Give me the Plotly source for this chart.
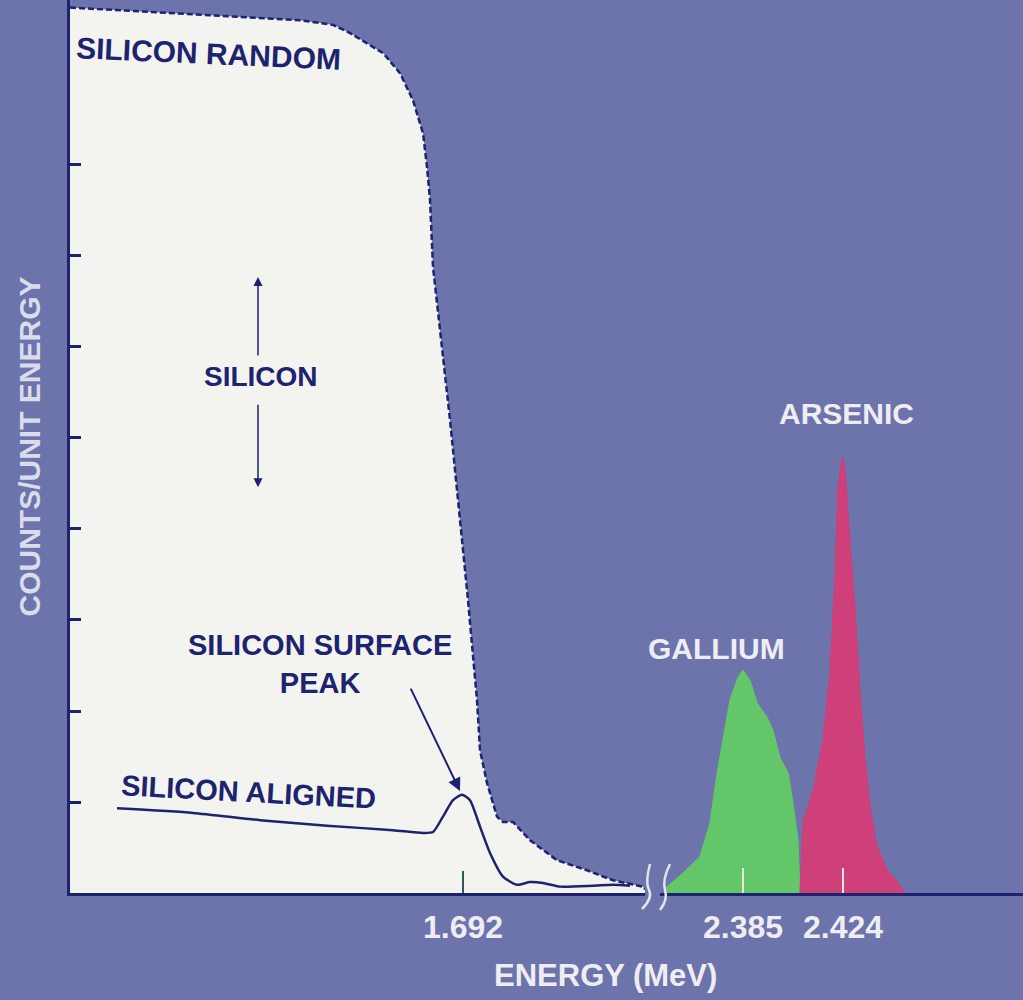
import plotly.graph_objects as go

# ---- spectrum data (energy in MeV, counts in arbitrary units) ----
random_energy = [0.906, 1.100, 1.366, 1.432, 1.466, 1.532, 1.566, 1.592, 1.612, 1.620,
                 1.626, 1.632, 1.646, 1.666, 1.686, 1.702, 1.720, 1.726, 1.740, 1.760,
                 1.772, 1.792, 1.826, 1.880, 1.940, 1.992, 2.052, 2.056]
random_counts = [9.73, 9.67, 9.59, 9.54, 9.45, 9.23, 9.01, 8.71, 8.35, 7.98,
                 7.62, 6.88, 6.19, 5.20, 4.10, 3.22, 2.12, 1.57, 1.21, 0.84,
                 0.78, 0.78, 0.58, 0.36, 0.25, 0.14, 0.07, 0.04]

aligned_energy = [1.000, 1.152, 1.286, 1.420, 1.552, 1.612, 1.632, 1.652, 1.672, 1.690,
                  1.706, 1.726, 1.746, 1.772, 1.800, 1.826, 1.852, 1.886, 1.952, 1.992, 2.026]
aligned_counts = [0.93, 0.88, 0.80, 0.74, 0.69, 0.66, 0.67, 0.84, 1.02, 1.08,
                  1.02, 0.73, 0.44, 0.18, 0.09, 0.12, 0.11, 0.07, 0.08, 0.09, 0.08]

gallium_energy = [2.3546, 2.3616, 2.3682, 2.3721, 2.3749, 2.3772, 2.3799, 2.3830, 2.3850,
                  2.3877, 2.3905, 2.3944, 2.3967, 2.3994, 2.4026, 2.4045, 2.4065, 2.4072]
gallium_counts = [0.05, 0.22, 0.40, 0.77, 1.32, 1.68, 2.12, 2.37, 2.45,
                  2.34, 2.09, 1.93, 1.79, 1.49, 1.32, 0.99, 0.58, 0.0]

arsenic_energy = [2.4072, 2.4084, 2.4123, 2.4162, 2.4189, 2.4209, 2.4220, 2.4236, 2.4248,
                  2.4267, 2.4287, 2.4306, 2.4326, 2.4345, 2.4373, 2.4412, 2.4462, 2.4482]
arsenic_counts = [0.0, 0.77, 1.13, 1.68, 2.42, 3.52, 4.43, 4.79, 4.68,
                  3.87, 3.15, 2.24, 1.49, 0.95, 0.51, 0.25, 0.09, 0.0]

si_tick = [1.692]
ga_as_ticks = [2.385, 2.424]
count_ticks = [1, 2, 3, 4, 5, 6, 7, 8]

# ---- styling ----
BG = "#6D73AB"
PAPER_WHITE = "#F3F3F0"
NAVY = "#1D236E"
GREEN = "#63C76A"
MAGENTA = "#CF3F7A"
LIGHT = "#EEEEF2"
FONT = '"Liberation Sans Narrow", "Liberation Sans", Arial, sans-serif'

W, H = 1023, 1000
ML, MB = 70, 107
PW, PH = W - ML, H - MB


def paper(xp, yp):
    """Convert page pixel position to paper coordinates of the plot area."""
    return (xp - ML) / PW, (H - MB - yp) / PH


def font(size, color):
    return dict(family=FONT, size=size, color=color, weight="bold")


fig = go.Figure()

fig.add_trace(go.Scatter(
    x=random_energy, y=random_counts, mode="lines",
    fill="tozeroy", fillcolor=PAPER_WHITE,
    line=dict(color=NAVY, width=2.5, dash="6px,3px"),
    xaxis="x", yaxis="y", hoverinfo="skip"))

fig.add_trace(go.Scatter(
    x=aligned_energy, y=aligned_counts, mode="lines",
    line=dict(color=NAVY, width=2.5, shape="spline", smoothing=0.6),
    xaxis="x", yaxis="y", hoverinfo="skip"))

fig.add_trace(go.Scatter(
    x=gallium_energy, y=gallium_counts, mode="lines",
    fill="tozeroy", fillcolor=GREEN, line=dict(color=GREEN, width=1),
    xaxis="x2", yaxis="y", hoverinfo="skip"))

fig.add_trace(go.Scatter(
    x=arsenic_energy, y=arsenic_counts, mode="lines",
    fill="tozeroy", fillcolor=MAGENTA, line=dict(color=MAGENTA, width=1),
    xaxis="x2", yaxis="y", hoverinfo="skip"))

split_left = (645 - ML) / PW
split_right = (660 - ML) / PW

axis_common = dict(showline=True, linecolor=NAVY, linewidth=3, showgrid=False,
                   zeroline=False, ticks="inside", fixedrange=True,
                   tickfont=font(32, LIGHT), ticklabelstandoff=4)

fig.update_layout(
    width=W, height=H,
    margin=dict(l=ML, r=0, t=0, b=MB),
    paper_bgcolor=BG, plot_bgcolor=BG,
    showlegend=False,
    font=dict(family=FONT, color=NAVY),
    xaxis=dict(domain=[0, split_left],
               range=[random_energy[0], random_energy[-1]],
               tickvals=si_tick, ticktext=[f"{v:.3f}" for v in si_tick],
               ticklen=22, tickwidth=1.5, tickcolor="#2E5C5A", **axis_common),
    xaxis2=dict(domain=[split_right, 1], anchor="y",
                range=[2.35263, 2.4942],
                tickvals=ga_as_ticks, ticktext=[f"{v:.3f}" for v in ga_as_ticks],
                ticklen=25, tickwidth=2, tickcolor="#E6E8D8", **axis_common),
    yaxis=dict(range=[0, 9.813], showline=True, linecolor=NAVY, linewidth=3,
               showgrid=False, zeroline=False, fixedrange=True,
               ticks="inside", tickvals=count_ticks, ticklen=11, tickwidth=2.5,
               tickcolor=NAVY, showticklabels=False,
               title=dict(text="COUNTS/UNIT ENERGY", standoff=18,
                          font=font(30, "#DADCEC"))),
)

annotations = []


def label(text, xp, yp, size, color=NAVY, angle=0):
    px_, py_ = paper(xp, yp)
    annotations.append(dict(text=text, x=px_, y=py_, xref="paper", yref="paper",
                            showarrow=False, textangle=angle, xanchor="center", yanchor="middle",
                            font=font(size, color)))


label("SILICON RANDOM", 208, 54, 30, angle=2.5)
label("SILICON", 261, 376, 28)
label("SILICON SURFACE<br>PEAK", 320, 664, 29)
label("SILICON ALIGNED", 248, 792, 29, angle=3)
label("GALLIUM", 716, 648, 30, color=LIGHT)
label("ARSENIC", 846, 413, 30, color=LIGHT)
label("ENERGY (MeV)", 605, 976, 31, color=LIGHT)

# arrow pointing at the surface peak
annotations.append(dict(x=1.686, y=1.12, xref="x", yref="y", ax=-50, ay=-104,
                        axref="pixel", ayref="pixel", text="", showarrow=True,
                        arrowhead=2, arrowsize=1.3, arrowwidth=2, arrowcolor=NAVY))
# double arrow marking the silicon range
annotations.append(dict(x=1.282, y=6.77, xref="x", yref="y", ax=0, ay=80,
                        text="", showarrow=True, arrowhead=2, arrowsize=1.2,
                        arrowwidth=1.5, arrowcolor=NAVY))
annotations.append(dict(x=1.282, y=4.46, xref="x", yref="y", ax=0, ay=-84,
                        text="", showarrow=True, arrowhead=2, arrowsize=1.2,
                        arrowwidth=1.5, arrowcolor=NAVY))

fig.update_layout(annotations=annotations)

# axis break marks
shapes = []
for pts in ([(650, 864), (645, 882), (649, 890), (642, 909)],
            [(670, 864), (662, 880), (665, 890), (660, 910)]):
    conv = [paper(a, b) for a, b in pts]
    (x0, y0), (x1, y1), (x2, y2), (x3, y3) = conv
    path = f"M {x0},{y0} Q {x1},{y1} {x2},{y2} T {x3},{y3}"
    shapes.append(dict(type="path", path=path, xref="paper", yref="paper",
                       line=dict(color="#E4E4EC", width=2.5)))
fig.update_layout(shapes=shapes)

fig.write_html("out.html")
